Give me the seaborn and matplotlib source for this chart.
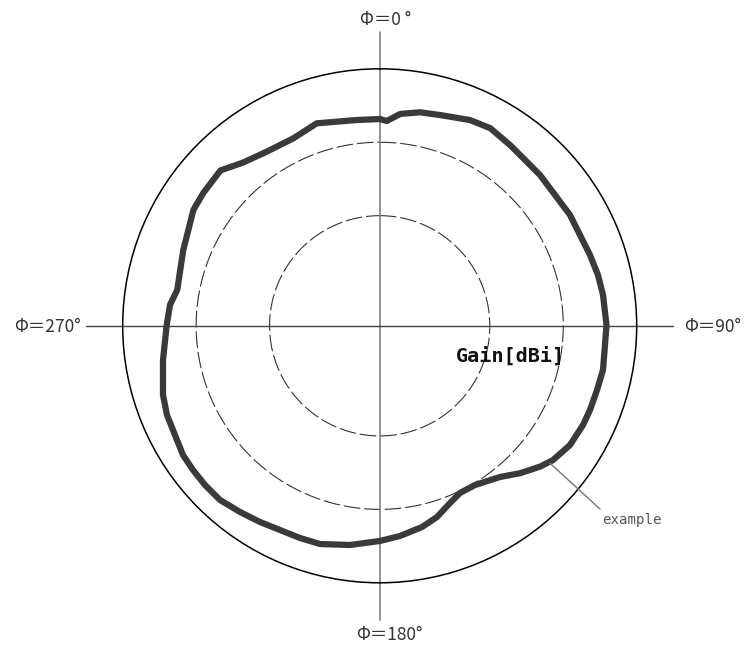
import numpy as np
import pandas as pd
import matplotlib
matplotlib.use("Agg")
import matplotlib.pyplot as plt
import seaborn as sns

# ---- data (azimuth in degrees, clockwise from Φ=0°; radial level, outer ring = 3.5) ----
phi_deg = [0, 2, 5.5, 7.3, 10.7, 16, 23.7, 29.2, 35.8, 41.2, 46.8, 53.3, 59.8, 65.6,
           71.4, 76.9, 82.1, 89.8, 94.9, 101.2, 106.5, 111.8, 116, 122.1, 127.8, 131.3,
           136.4, 141.5, 149.1, 154.4, 159.1, 163.3, 168.1, 174.5, 180, 187.7, 195.3,
           200.6, 206, 211.4, 216.9, 222.5, 227.7, 232.3, 236.7, 241.9, 247.3, 252.3,
           261, 270.2, 275.7, 280.1, 287, 291.1, 301.9, 307, 314.3, 320, 327, 335.3,
           342.7, 348.1, 353.6, 360]
gain_level = [2.816, 2.791, 2.898, 2.917, 2.959, 2.986, 3.06, 3.084, 3.035, 3.003, 2.997,
              2.979, 2.999, 2.995, 3.022, 3.052, 3.07, 3.089, 3.079, 3.1, 3.086, 3.085,
              3.081, 3.058, 2.985, 2.906, 2.772, 2.631, 2.527, 2.526, 2.612, 2.718, 2.8,
              2.876, 2.931, 3.012, 3.081, 3.087, 3.095, 3.13, 3.17, 3.218, 3.219, 3.213,
              3.205, 3.16, 3.141, 3.098, 2.988, 2.901, 2.87, 2.8, 2.83, 2.867, 2.988,
              3.007, 3.03, 2.9, 2.827, 2.811, 2.888, 2.841, 2.82, 2.816]
ring_levels = [1.5, 2.5]
outer_level = 3.5
axis_extent = 4.0
direction_labels = ["Φ＝0 °", "Φ＝90°", "Φ＝180°", "Φ＝270°"]
series_label = "example"
unit_label = "Gain[dBi]"

sns.set_style("white")
plt.rcParams["font.family"] = ["Noto Sans CJK JP", "DejaVu Sans"]

W, H = 750, 648
fig = plt.figure(figsize=(W / 100, H / 100), dpi=100)
cx, cy, R = 379.7, 325.8, 257.0
ax = fig.add_axes([(cx - R) / W, (H - cy - R) / H, 2 * R / W, 2 * R / H],
                  projection="polar")
ax.set_theta_zero_location("N")
ax.set_theta_direction(-1)
ax.set_ylim(0, outer_level)
ax.set_xticks([])
ax.set_yticks([])
ax.grid(False)
ax.spines["polar"].set_color("black")
ax.spines["polar"].set_linewidth(1.1)
ax.set_facecolor("none")

# dashed reference rings
tt = np.linspace(0, 2 * np.pi, 721)
for lev in ring_levels:
    ax.plot(tt, np.full_like(tt, lev), color="#333333", lw=0.8,
            linestyle=(0, (15, 3.5)), zorder=1)

# cross axes extending beyond the outer ring
ax.plot([0, 0], [0, axis_extent], color="#808080", lw=1.2, clip_on=False, zorder=1)
ax.plot([np.pi, np.pi], [0, axis_extent], color="#808080", lw=1.2, clip_on=False, zorder=1)
ax.plot([np.pi / 2, np.pi / 2], [0, axis_extent], color="#444444", lw=1.0, clip_on=False, zorder=1)
ax.plot([1.5 * np.pi, 1.5 * np.pi], [0, axis_extent], color="#444444", lw=1.0, clip_on=False, zorder=1)

# pattern curve
df = pd.DataFrame({"theta": np.deg2rad(phi_deg), "gain": gain_level})
sns.lineplot(data=df, x="theta", y="gain", sort=False, ax=ax, color="#3a3a3a",
             lw=4.5, estimator=None, zorder=3)
for ln in ax.lines[-1:]:
    ln.set_solid_joinstyle("round")
    ln.set_solid_capstyle("round")
ax.set_xlabel("")
ax.set_ylabel("")

# leader line + label
ax.annotate("", xy=(np.deg2rad(128.9), 2.978), xycoords="data",
            xytext=(600 / W, 1 - 509 / H), textcoords="figure fraction",
            arrowprops=dict(arrowstyle="-", color="#777777", lw=1.0,
                            shrinkA=0, shrinkB=0), annotation_clip=False)
fig.text(632 / W, 1 - 520 / H, series_label, ha="center", va="center",
         family="DejaVu Sans Mono", fontsize=10.2, color="#555555")

fig.text(510 / W, 1 - 356 / H, unit_label, ha="center", va="center",
         family="DejaVu Sans Mono", fontweight="bold", fontsize=14.5, color="#111111")

lab_kw = dict(ha="center", va="center", fontsize=12.5, color="#333333")
fig.text(386 / W, 1 - 20 / H, direction_labels[0], **lab_kw)
fig.text(713 / W, 1 - 327 / H, direction_labels[1], **lab_kw)
fig.text(389 / W, 1 - 635 / H, direction_labels[2], **lab_kw)
fig.text(47.5 / W, 1 - 327 / H, direction_labels[3], **lab_kw)

fig.savefig("out.png", dpi=100, facecolor="white")
